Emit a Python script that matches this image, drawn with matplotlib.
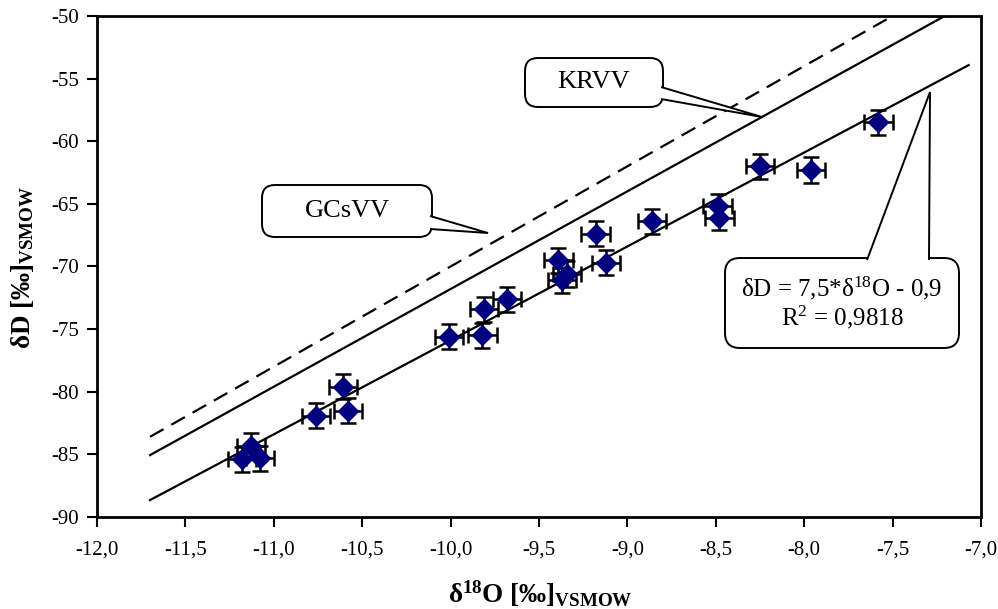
import matplotlib
matplotlib.use("Agg")
import matplotlib.pyplot as plt
import numpy as np
from matplotlib.patches import FancyBboxPatch, Polygon
from matplotlib.ticker import FuncFormatter

# measured samples
d18o = [-11.18, -11.13, -11.08, -10.76, -10.61, -10.58, -10.01, -9.82, -9.81, -9.68,
        -9.39, -9.37, -9.34, -9.18, -9.12, -8.86, -8.49, -8.48, -8.25, -7.96, -7.58]
dD = [-85.4, -84.3, -85.3, -81.9, -79.6, -81.5, -75.6, -75.5, -73.4, -72.6,
      -69.5, -71.1, -70.6, -67.4, -69.7, -66.4, -65.2, -66.1, -62.0, -62.3, -58.5]
err_x = 0.08
err_y = 1.0

# water lines: slope, intercept, x range
gcsvv = (8.0, 10.0, -11.7, -7.0)
krvv = (7.8, 6.2, -11.7, -7.0)
fit = (7.5, -0.9, -11.7, -7.07)

plt.rcParams['font.family'] = ['Liberation Serif', 'DejaVu Serif']
plt.rcParams['mathtext.fontset'] = 'custom'
plt.rcParams['mathtext.rm'] = 'Liberation Serif'
plt.rcParams['mathtext.it'] = 'Liberation Serif:italic'
plt.rcParams['mathtext.bf'] = 'Liberation Serif:bold'

fig = plt.figure(figsize=(9.98, 6.09), dpi=100)
ax = fig.add_axes([0.0972, 0.1511, 0.8858, 0.8227])

def line(ax, p, **kw):
    xs = np.array([p[2], p[3]])
    ax.plot(xs, p[0] * xs + p[1], color='black', lw=1.6, **kw)

line(ax, gcsvv, dashes=(7, 4))
line(ax, krvv)
line(ax, fit)

ax.errorbar(d18o, dD, xerr=err_x, yerr=err_y, fmt='none', ecolor='black',
            elinewidth=1.8, capsize=6, capthick=1.8, zorder=3)
ax.plot(d18o, dD, 'D', color='#000080', ms=10, mec='#000080', zorder=4, ls='none')

ax.set_xlim(-12, -7)
ax.set_ylim(-90, -50)
ax.set_xticks(np.arange(-12, -6.99, 0.5))
ax.set_yticks(np.arange(-90, -49, 5))
ax.xaxis.set_major_formatter(FuncFormatter(lambda v, p: f"{v:.1f}".replace('.', ',')))
ax.yaxis.set_major_formatter(FuncFormatter(lambda v, p: f"{v:.0f}"))
ax.tick_params(direction='out', length=7, width=1.5, labelsize=15, pad=6)
ax.tick_params(axis='x', pad=10)
for s in ax.spines.values():
    s.set_linewidth(2)

fig.text(540 / 998, 1 - 594 / 609, r'$\mathbf{δ^{18}O\ [‰]_{VSMOW}}$',
         ha='center', va='center', fontsize=19.5)
fig.text(23 / 998, 1 - 267 / 609, r'$\mathbf{δD\ [‰]_{VSMOW}}$',
         ha='center', va='center', fontsize=19.5, rotation=90)

# callouts, positions in pixels of the figure
def px(x, y):
    return (x / 100, (609 - y) / 100)

def callout(box, base_a, base_b, tip, text, radius=0.13, size=19):
    x0, y0, x1, y1 = box
    bl = px(x0, y1)
    tr = px(x1, y0)
    fig.add_artist(FancyBboxPatch(bl, tr[0] - bl[0], tr[1] - bl[1],
                                  boxstyle=f"round,pad=0,rounding_size={radius}",
                                  transform=fig.dpi_scale_trans, fc='white',
                                  ec='black', lw=1.4, zorder=5))
    fig.add_artist(Polygon([px(*base_a), px(*tip), px(*base_b)], closed=False,
                           transform=fig.dpi_scale_trans, fc='white', ec='black',
                           lw=1.4, zorder=6))
    fig.text((x0 + x1) / 2 / 998, 1 - (y0 + y1) / 2 / 609, text, ha='center',
             va='center', fontsize=size, zorder=7, linespacing=1.05)

callout((525, 58, 663, 107), (661, 87), (661, 99), (762, 117), 'KRVV')
callout((262, 185, 432, 237), (430, 216), (430, 229), (488, 233), 'GCsVV')
callout((725, 258, 959, 348), (867, 260), (929, 260), (930, 92),
        'δD = 7,5*δ$^{18}$O - 0,9\nR$^{2}$ = 0,9818', radius=0.15, size=18)

fig.savefig('out.png', dpi=100)
